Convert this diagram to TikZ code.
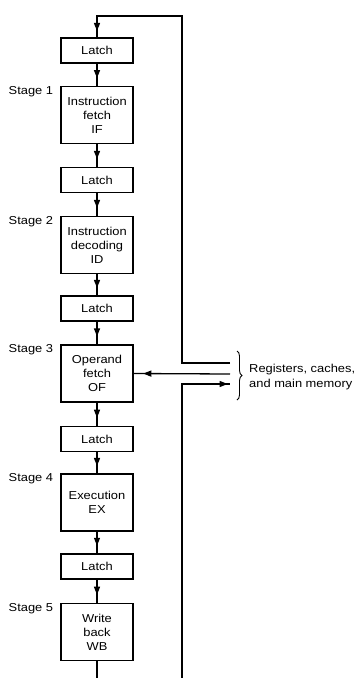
\documentclass[tikz,border=0pt]{standalone}
\usepackage{fontspec}
\setmainfont{Liberation Sans}[FakeStretch=1.12]
\usetikzlibrary{arrows.meta,decorations.markings,decorations.pathreplacing}
\begin{document}
\begin{tikzpicture}[x=1pt,y=-1pt,
  box/.style={draw,line width=1.3pt,minimum width=72pt,inner sep=0pt,align=center,font=\fontsize{11.5}{14}\selectfont},
  latchbox/.style={box,minimum height=25pt},
  stagebox/.style={box,minimum height=57pt},
  lbl/.style={anchor=north east,inner sep=0pt,font=\fontsize{11.5}{14}\selectfont},
  wire/.style={line width=1.3pt},
  midarrow/.style={decoration={markings,mark=at position #1 with {\arrow{Triangle[length=8pt,width=6pt]}}},postaction={decorate}},
]
\useasboundingbox (0,0) rectangle (354,678);
\fill[white] (0,0) rectangle (354,678);

% boxes
\node[latchbox] (L1) at (97,50.5) {Latch};
\node[stagebox] (S1) at (97,115) {Instruction\\fetch\\IF};
\node[latchbox] (L2) at (97,180) {Latch};
\node[stagebox] (S2) at (97,245) {Instruction\\decoding\\ID};
\node[latchbox] (L3) at (97,308.5) {Latch};
\node[stagebox] (S3) at (97,373.5) {Operand\\fetch\\OF};
\node[latchbox] (L4) at (97,439) {Latch};
\node[stagebox] (S4) at (97,502.5) {Execution\\EX};
\node[latchbox] (L5) at (97,566.5) {Latch};
\node[stagebox] (S5) at (97,632) {Write\\back\\WB};

% stage labels
\node[lbl] (T1) at ([xshift=-7pt]S1.north west) {Stage 1};
\node[lbl] (T2) at ([xshift=-7pt]S2.north west) {Stage 2};
\node[lbl] (T3) at ([xshift=-7pt]S3.north west) {Stage 3};
\node[lbl] (T4) at ([xshift=-7pt]S4.north west) {Stage 4};
\node[lbl] (T5) at ([xshift=-7pt]S5.north west) {Stage 5};

% coordinates
\coordinate (top) at (97,16);
\coordinate (topR) at (182,16);
\coordinate (m1) at (182,363);
\coordinate (e1) at (230,363);
\coordinate (e2) at (230,374);
\coordinate (e3) at (230,384);
\coordinate (m3) at (182,384);
\coordinate (bR) at (182,678);
\coordinate (bL) at (97,678);
\coordinate (brT) at (237,351);
\coordinate (brB) at (237,400);

% feedback loop
\draw[wire,line join=miter] (e1) -- (m1) -- (topR) -- (top) -- (L1.north);
\draw[wire,midarrow=0.7] (top) -- (L1.north);

% vertical flow
\draw[wire,midarrow=0.65] (L1.south) -- (S1.north);
\draw[wire,midarrow=0.65] (S1.south) -- (L2.north);
\draw[wire,midarrow=0.65] (L2.south) -- (S2.north);
\draw[wire,midarrow=0.65] (S2.south) -- (L3.north);
\draw[wire,midarrow=0.65] (L3.south) -- (S3.north);
\draw[wire,midarrow=0.65] (S3.south) -- (L4.north);
\draw[wire,midarrow=0.65] (L4.south) -- (S4.north);
\draw[wire,midarrow=0.65] (S4.south) -- (L5.north);
\draw[wire,midarrow=0.65] (L5.south) -- (S5.north);
\draw[wire] (S5.south) -- (bL);

% memory connections
\draw[wire,midarrow=0.9] (e2) -- (S3.east);
\draw[wire,line join=miter] (bR) -- (m3) -- (e3);
\draw[wire,midarrow=0.95] (m3) -- (e3);

% brace and label
\draw[line width=0.9pt,decorate,decoration={brace,amplitude=5pt}] (brT) -- (brB);
\node[anchor=west,align=left,inner sep=0pt,font=\fontsize{11.5}{14.5}\selectfont] (mem) at (249,377) {Registers, caches,\\and main memory};
\end{tikzpicture}
\end{document}
